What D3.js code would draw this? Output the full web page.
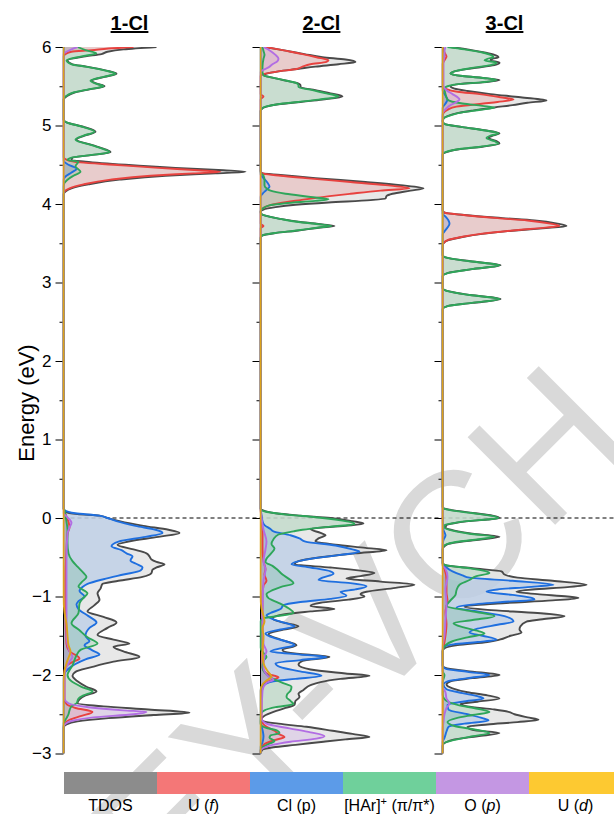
<!DOCTYPE html>
<html>
<head>
<meta charset="utf-8">
<script src="https://cdn.jsdelivr.net/npm/d3@7"></script>
<style>
  body { margin: 0; background: #fff; }
  svg { display: block; font-family: Arial, "Liberation Sans", sans-serif; }
</style>
</head>
<body>
<svg id="dos" width="614" height="814"></svg>
<script>
// ---- data: [energy (eV), DOS (arb.)] ----
const panelNames = ["1-Cl", "2-Cl", "3-Cl"];
const seriesNames = ["TDOS", "U (f)", "Cl (p)", "[HAr]+ (π/π*)", "O (p)", "U (d)"];
const energyTicks = [-3, -2, -1, 0, 1, 2, 3, 4, 5, 6];
const minorTicks = [-2.5, -1.5, -0.5, 0.5, 1.5, 2.5, 3.5, 4.5, 5.5];

// 1-Cl
const tdos1 = [[6.0,93],[5.97,60],[5.94,44],[5.91,38],[5.88,22],[5.83,4],[5.78,9],[5.75,23],[5.70,43],[5.66,53],[5.62,41],[5.57,28],[5.53,34],[5.50,41],[5.46,26],[5.42,11],[5.37,3],[5.33,0],[5.07,0],[5.04,3],[4.98,21],[4.92,32],[4.87,21],[4.82,13],[4.75,29],[4.70,41],[4.66,47],[4.62,26],[4.59,9],[4.56,8],[4.54,22],[4.50,62],[4.46,112],[4.43,160],[4.41,182],[4.39,152],[4.36,102],[4.31,56],[4.25,25],[4.20,8],[4.16,2],[4.12,0],[0.12,0],[0.08,2],[0.05,14],[0.03,36],[0.0,44],[-0.04,56],[-0.10,80],[-0.15,105],[-0.19,116],[-0.24,95],[-0.30,65],[-0.34,54],[-0.40,70],[-0.45,83],[-0.49,86],[-0.53,88],[-0.56,93],[-0.59,101],[-0.63,93],[-0.66,89],[-0.70,88],[-0.75,79],[-0.80,55],[-0.84,39],[-0.90,37],[-0.96,34],[-1.04,36],[-1.11,31],[-1.19,24],[-1.26,40],[-1.33,53],[-1.40,44],[-1.49,34],[-1.55,50],[-1.60,66],[-1.64,50],[-1.70,60],[-1.77,76],[-1.83,50],[-1.90,28],[-1.96,12],[-2.01,9],[-2.08,14],[-2.15,23],[-2.21,33],[-2.26,22],[-2.31,16],[-2.36,14],[-2.40,40],[-2.44,85],[-2.48,126],[-2.51,90],[-2.55,45],[-2.59,14],[-2.63,3],[-2.67,0],[-3,0]];
const uf1 = [[6.0,70],[5.98,45],[5.96,28],[5.94,8],[5.91,2],[5.88,0],[4.60,0],[4.56,4],[4.53,17],[4.50,50],[4.46,95],[4.43,135],[4.41,157],[4.39,130],[4.36,87],[4.31,47],[4.25,20],[4.20,6],[4.16,1],[4.12,0],[0.12,0],[0.05,2],[-0.05,5],[-0.12,6],[-0.20,4],[-0.40,3],[-0.80,2],[-1.20,2],[-1.60,3],[-1.70,6],[-1.76,14],[-1.79,16],[-1.83,10],[-1.88,3],[-1.95,1],[-2.30,1],[-2.37,3],[-2.42,12],[-2.47,29],[-2.52,18],[-2.57,6],[-2.62,1],[-2.66,0],[-3,0]];
const clp1 = [[6.0,0],[4.55,0],[4.50,5],[4.45,13],[4.40,8],[4.35,2],[4.31,0],[0.12,0],[0.10,1],[0.06,12],[0.03,36],[0.0,44],[-0.04,53],[-0.10,72],[-0.15,92],[-0.19,99],[-0.24,82],[-0.30,55],[-0.36,48],[-0.41,58],[-0.45,63],[-0.49,69],[-0.54,67],[-0.58,72],[-0.63,79],[-0.67,77],[-0.72,60],[-0.78,40],[-0.84,24],[-0.88,19],[-0.93,16],[-1.0,21],[-1.06,15],[-1.10,13],[-1.16,15],[-1.25,25],[-1.33,33],[-1.40,26],[-1.45,23],[-1.50,22],[-1.57,26],[-1.62,21],[-1.68,28],[-1.74,36],[-1.80,22],[-1.86,12],[-1.92,5],[-1.98,1],[-2.05,0],[-3,0]];
const har1 = [[6.0,14],[5.96,22],[5.92,33],[5.88,18],[5.83,3],[5.78,8],[5.75,22],[5.70,42],[5.66,52],[5.62,40],[5.57,27],[5.53,33],[5.50,40],[5.46,25],[5.42,10],[5.37,2],[5.33,0],[5.07,0],[5.04,3],[4.98,20],[4.92,31],[4.87,20],[4.82,12],[4.75,28],[4.70,40],[4.66,46],[4.62,25],[4.59,8],[4.56,4],[4.54,15],[4.48,12],[4.41,17],[4.36,10],[4.31,4],[4.27,1],[4.22,0],[0.12,0],[0.10,1],[0.03,2],[-0.05,3],[-0.15,4],[-0.32,4],[-0.45,5],[-0.55,9],[-0.62,14],[-0.70,20],[-0.75,23],[-0.82,18],[-0.87,15],[-0.96,24],[-1.03,19],[-1.09,16],[-1.21,15],[-1.34,8],[-1.43,16],[-1.52,24],[-1.60,34],[-1.68,17],[-1.75,13],[-1.81,11],[-1.88,9],[-1.94,6],[-2.0,4],[-2.08,8],[-2.15,18],[-2.21,29],[-2.26,20],[-2.30,15],[-2.36,13],[-2.40,8],[-2.45,6],[-2.50,5],[-2.55,3],[-2.62,0],[-3,0]];
const op1 = [[6.0,14],[5.97,8],[5.94,3],[5.91,0],[0.06,0],[0.02,3],[-0.06,8],[-0.12,6],[-0.20,4],[-0.50,3],[-1.0,3],[-1.5,3],[-1.70,6],[-1.77,9],[-1.83,6],[-1.90,3],[-2.0,1],[-2.30,1],[-2.36,5],[-2.41,25],[-2.45,60],[-2.47,83],[-2.50,70],[-2.54,30],[-2.58,10],[-2.62,2],[-2.66,0],[-3,0]];
const ud1 = [[6.0,0],[-1.0,0],[-1.2,1],[-1.35,3],[-1.5,4],[-1.62,5],[-1.70,7],[-1.78,5],[-1.85,3],[-1.95,1],[-2.1,0],[-3,0]];

// 2-Cl
const tdos2 = [[6.0,4],[5.97,18],[5.94,31],[5.91,44],[5.87,62],[5.84,85],[5.81,95],[5.78,78],[5.75,55],[5.72,37],[5.69,18],[5.66,6],[5.64,3],[5.61,12],[5.57,26],[5.54,37],[5.51,40],[5.49,40],[5.45,55],[5.41,70],[5.37,82],[5.33,62],[5.30,40],[5.27,18],[5.24,6],[5.21,1],[5.18,0],[4.42,0],[4.39,2],[4.37,20],[4.33,55],[4.28,105],[4.24,140],[4.20,163],[4.17,150],[4.13,132],[4.10,126],[4.07,125],[4.05,110],[4.02,68],[3.99,35],[3.96,15],[3.93,3],[3.90,0],[3.87,1],[3.81,20],[3.77,40],[3.74,62],[3.72,74],[3.70,60],[3.66,36],[3.63,15],[3.60,2],[3.57,0],[0.12,0],[0.10,2],[0.06,15],[0.03,40],[0.0,70],[-0.04,92],[-0.07,103],[-0.10,85],[-0.14,50],[-0.19,60],[-0.22,65],[-0.26,58],[-0.30,55],[-0.34,75],[-0.38,105],[-0.41,126],[-0.45,95],[-0.50,60],[-0.55,38],[-0.59,34],[-0.63,70],[-0.67,100],[-0.70,114],[-0.74,100],[-0.77,86],[-0.81,120],[-0.85,154],[-0.89,135],[-0.94,106],[-0.97,100],[-1.00,104],[-1.04,88],[-1.08,60],[-1.12,50],[-1.16,74],[-1.19,50],[-1.23,23],[-1.28,12],[-1.33,22],[-1.38,38],[-1.43,20],[-1.48,8],[-1.55,20],[-1.62,36],[-1.68,22],[-1.72,30],[-1.77,69],[-1.82,42],[-1.87,38],[-1.93,50],[-1.98,85],[-2.01,109],[-2.05,80],[-2.09,60],[-2.13,50],[-2.19,43],[-2.24,38],[-2.28,39],[-2.33,35],[-2.38,34],[-2.42,25],[-2.47,13],[-2.52,4],[-2.56,1],[-2.59,3],[-2.62,18],[-2.66,46],[-2.71,72],[-2.75,92],[-2.79,109],[-2.82,85],[-2.85,63],[-2.89,35],[-2.92,13],[-2.95,2],[-3,0]];
const uf2 = [[6.0,5],[5.97,18],[5.94,30],[5.91,42],[5.87,56],[5.83,68],[5.81,66],[5.78,50],[5.75,42],[5.72,36],[5.69,18],[5.66,5],[5.63,0],[5.40,0],[5.37,3],[5.33,0],[4.42,0],[4.39,2],[4.36,20],[4.33,45],[4.28,90],[4.24,125],[4.20,149],[4.17,120],[4.13,90],[4.10,69],[4.05,40],[4.01,19],[3.97,6],[3.93,1],[3.90,0],[3.75,0],[3.72,3],[3.69,0],[0.12,0],[0.0,1],[-0.2,2],[-0.4,2],[-0.55,3],[-0.65,5],[-0.72,4],[-0.80,6],[-0.86,3],[-1.0,2],[-1.5,2],[-1.9,2],[-1.98,6],[-2.03,18],[-2.07,10],[-2.12,3],[-2.2,1],[-2.58,1],[-2.65,5],[-2.71,14],[-2.75,18],[-2.79,24],[-2.83,14],[-2.88,4],[-2.93,1],[-2.97,0],[-3,0]];
const clp2 = [[6.0,0],[4.38,0],[4.33,3],[4.27,7],[4.22,9],[4.18,6],[4.13,2],[4.09,0],[0.12,0],[0.04,1],[-0.04,2],[-0.09,4],[-0.14,10],[-0.17,13],[-0.22,30],[-0.26,39],[-0.30,45],[-0.35,75],[-0.40,92],[-0.43,99],[-0.47,80],[-0.52,50],[-0.57,33],[-0.59,31],[-0.63,50],[-0.68,70],[-0.71,73],[-0.76,62],[-0.79,58],[-0.83,90],[-0.87,106],[-0.91,95],[-0.94,80],[-0.99,86],[-1.03,70],[-1.07,40],[-1.11,23],[-1.16,20],[-1.21,10],[-1.24,6],[-1.30,15],[-1.35,28],[-1.38,34],[-1.42,20],[-1.47,5],[-1.53,14],[-1.58,28],[-1.62,34],[-1.66,20],[-1.70,10],[-1.74,40],[-1.77,66],[-1.81,40],[-1.85,15],[-1.90,20],[-1.95,38],[-2.01,61],[-2.05,35],[-2.08,13],[-2.12,4],[-2.15,1],[-2.2,0],[-2.6,0],[-2.70,2],[-2.78,3],[-2.86,2],[-2.92,0],[-3,0]];
const har2 = [[6.0,2],[5.95,3],[5.90,4],[5.85,3],[5.75,2],[5.68,2],[5.64,3],[5.61,12],[5.57,26],[5.54,36],[5.51,38],[5.49,38],[5.45,52],[5.41,66],[5.37,78],[5.33,58],[5.30,38],[5.27,17],[5.24,5],[5.21,1],[5.18,0],[4.40,0],[4.36,3],[4.30,4],[4.24,4],[4.20,6],[4.17,10],[4.13,25],[4.09,50],[4.06,68],[4.04,55],[4.01,25],[3.98,8],[3.94,2],[3.90,0],[3.87,1],[3.81,20],[3.77,38],[3.74,60],[3.72,71],[3.70,58],[3.66,34],[3.63,14],[3.60,2],[3.57,0],[0.12,0],[0.10,1],[0.07,10],[0.04,29],[0.01,55],[-0.03,80],[-0.06,92],[-0.08,94],[-0.11,70],[-0.15,42],[-0.17,33],[-0.21,18],[-0.27,13],[-0.33,11],[-0.39,14],[-0.46,10],[-0.52,6],[-0.56,5],[-0.61,12],[-0.66,17],[-0.72,22],[-0.79,30],[-0.83,33],[-0.88,20],[-0.92,12],[-0.97,6],[-1.02,8],[-1.08,18],[-1.15,28],[-1.21,33],[-1.25,17],[-1.28,2],[-1.32,0],[-1.65,0],[-1.72,3],[-1.77,6],[-1.82,3],[-1.90,2],[-1.98,5],[-2.04,11],[-2.10,22],[-2.15,31],[-2.20,30],[-2.24,27],[-2.28,26],[-2.33,30],[-2.37,33],[-2.41,15],[-2.45,4],[-2.48,1],[-2.52,0],[-2.62,0],[-2.67,5],[-2.71,17],[-2.74,19],[-2.77,10],[-2.80,9],[-2.84,14],[-2.88,8],[-2.93,1],[-2.97,0],[-3,0]];
const op2 = [[6.0,3],[5.95,10],[5.90,15],[5.85,18],[5.82,17],[5.78,12],[5.74,8],[5.71,3],[5.68,0],[0.12,0],[0.0,1],[-0.15,3],[-0.30,6],[-0.40,5],[-0.55,3],[-0.66,5],[-0.8,3],[-1.2,2],[-1.6,3],[-1.70,6],[-1.76,4],[-1.9,3],[-2.02,8],[-2.06,13],[-2.10,6],[-2.2,2],[-2.55,1],[-2.62,6],[-2.68,29],[-2.73,50],[-2.78,64],[-2.81,56],[-2.85,30],[-2.89,12],[-2.93,3],[-2.97,0],[-3,0]];
const ud2 = [[6.0,0],[-1.0,0],[-1.15,1],[-1.25,3],[-1.32,4],[-1.40,2],[-1.5,3],[-1.7,2],[-1.85,3],[-1.95,7],[-2.02,11],[-2.07,6],[-2.12,2],[-2.2,0],[-3,0]];

// 3-Cl
const tdos3 = [[6.0,8],[5.97,25],[5.93,42],[5.90,52],[5.87,56],[5.85,50],[5.83,48],[5.80,57],[5.77,52],[5.73,30],[5.69,12],[5.66,8],[5.63,20],[5.60,45],[5.58,57],[5.55,40],[5.53,18],[5.50,8],[5.47,12],[5.44,25],[5.40,48],[5.36,78],[5.32,104],[5.29,85],[5.26,70],[5.23,52],[5.19,30],[5.16,16],[5.12,5],[5.09,1],[5.05,0],[5.02,2],[4.98,20],[4.94,42],[4.90,57],[4.87,50],[4.84,46],[4.80,54],[4.77,57],[4.73,40],[4.70,18],[4.66,4],[4.63,0],[3.92,0],[3.89,2],[3.86,22],[3.82,60],[3.79,92],[3.75,115],[3.72,124],[3.69,100],[3.66,70],[3.62,40],[3.58,20],[3.54,6],[3.50,1],[3.46,0],[3.35,0],[3.32,3],[3.27,28],[3.22,58],[3.17,30],[3.12,5],[3.08,0],[2.93,0],[2.90,3],[2.84,28],[2.79,58],[2.74,30],[2.70,5],[2.66,0],[0.14,0],[0.12,2],[0.09,15],[0.06,33],[0.03,50],[0.0,57],[-0.02,45],[-0.04,26],[-0.07,10],[-0.09,4],[-0.12,3],[-0.16,12],[-0.20,30],[-0.24,57],[-0.27,40],[-0.30,20],[-0.33,6],[-0.36,2],[-0.40,0],[-0.57,0],[-0.60,3],[-0.64,30],[-0.68,59],[-0.72,62],[-0.76,75],[-0.80,110],[-0.85,144],[-0.88,125],[-0.91,90],[-0.94,74],[-0.97,95],[-1.00,125],[-1.02,136],[-1.05,110],[-1.09,55],[-1.13,22],[-1.17,45],[-1.21,95],[-1.25,122],[-1.29,100],[-1.32,84],[-1.38,78],[-1.42,77],[-1.46,79],[-1.50,68],[-1.55,57],[-1.58,45],[-1.62,15],[-1.66,2],[-1.70,0],[-1.88,0],[-1.91,3],[-1.95,25],[-2.0,57],[-2.04,30],[-2.08,8],[-2.12,4],[-2.17,10],[-2.22,25],[-2.26,45],[-2.30,57],[-2.34,35],[-2.37,18],[-2.40,25],[-2.44,52],[-2.47,66],[-2.50,72],[-2.54,85],[-2.57,96],[-2.60,75],[-2.63,45],[-2.66,25],[-2.70,30],[-2.74,57],[-2.78,35],[-2.82,12],[-2.86,3],[-2.90,0],[-3,0]];
const uf3 = [[6.0,0],[5.93,2],[5.88,4],[5.83,2],[5.78,0],[5.50,0],[5.47,3],[5.43,15],[5.40,37],[5.36,58],[5.33,71],[5.30,55],[5.28,41],[5.24,14],[5.20,5],[5.16,1],[5.12,0],[3.92,0],[3.89,2],[3.86,21],[3.82,55],[3.79,85],[3.75,108],[3.72,117],[3.69,95],[3.66,68],[3.62,38],[3.58,19],[3.54,5],[3.50,1],[3.46,0],[0.14,0],[-0.6,0],[-0.65,2],[-0.8,4],[-0.95,4],[-1.05,5],[-1.2,3],[-1.35,4],[-1.5,3],[-1.65,1],[-1.7,0],[-3,0]];
const clp3 = [[6.0,0],[5.45,0],[5.38,3],[5.33,5],[5.28,3],[5.22,0],[3.88,0],[3.84,3],[3.79,6],[3.75,7],[3.70,5],[3.65,2],[3.61,0],[0.14,0],[0.05,0],[-0.15,1],[-0.22,3],[-0.28,1],[-0.35,0],[-0.58,0],[-0.62,3],[-0.68,10],[-0.73,20],[-0.76,27],[-0.80,70],[-0.85,111],[-0.88,85],[-0.91,55],[-0.94,44],[-0.98,70],[-1.02,90],[-1.04,92],[-1.07,60],[-1.11,25],[-1.14,14],[-1.19,35],[-1.25,62],[-1.32,71],[-1.36,55],[-1.41,35],[-1.46,27],[-1.50,40],[-1.55,54],[-1.58,35],[-1.61,11],[-1.64,2],[-1.68,0],[-1.88,0],[-1.92,3],[-1.96,25],[-2.0,47],[-2.04,25],[-2.08,5],[-2.12,1],[-2.18,4],[-2.23,20],[-2.27,35],[-2.30,41],[-2.34,20],[-2.38,5],[-2.44,6],[-2.50,25],[-2.55,40],[-2.58,46],[-2.62,22],[-2.66,6],[-2.72,4],[-2.80,2],[-2.86,0],[-3,0]];
const har3 = [[6.0,5],[5.97,22],[5.93,40],[5.90,48],[5.87,51],[5.85,45],[5.83,42],[5.80,54],[5.77,48],[5.73,28],[5.69,12],[5.66,8],[5.63,20],[5.60,45],[5.58,54],[5.55,38],[5.53,18],[5.50,5],[5.47,2],[5.40,3],[5.33,5],[5.28,20],[5.25,40],[5.23,52],[5.20,38],[5.17,21],[5.13,8],[5.10,2],[5.06,0],[5.02,2],[4.98,20],[4.94,41],[4.90,56],[4.87,48],[4.84,44],[4.80,52],[4.77,56],[4.73,38],[4.70,17],[4.66,3],[4.63,0],[3.35,0],[3.32,3],[3.27,27],[3.22,57],[3.17,29],[3.12,5],[3.08,0],[2.93,0],[2.90,3],[2.84,27],[2.79,57],[2.74,29],[2.70,5],[2.66,0],[0.14,0],[0.12,1],[0.09,12],[0.06,31],[0.03,48],[0.0,56],[-0.02,43],[-0.04,24],[-0.07,9],[-0.09,2],[-0.12,2],[-0.16,10],[-0.20,27],[-0.24,52],[-0.27,36],[-0.30,17],[-0.33,5],[-0.36,1],[-0.40,0],[-0.57,0],[-0.60,3],[-0.64,27],[-0.68,44],[-0.70,47],[-0.74,34],[-0.79,27],[-0.85,17],[-0.92,14],[-0.98,13],[-1.05,8],[-1.12,4],[-1.18,25],[-1.25,52],[-1.30,30],[-1.34,11],[-1.39,20],[-1.44,36],[-1.47,42],[-1.52,25],[-1.57,10],[-1.62,3],[-1.66,1],[-1.70,0],[-1.95,0],[-2.0,2],[-2.1,0],[-2.25,0],[-2.32,3],[-2.38,15],[-2.43,35],[-2.47,47],[-2.51,30],[-2.55,14],[-2.60,5],[-2.65,12],[-2.70,35],[-2.74,47],[-2.78,30],[-2.83,11],[-2.87,1],[-2.92,0],[-3,0]];
const op3 = [[6.0,3],[5.95,2],[5.9,2],[5.8,1],[5.5,1],[5.45,4],[5.40,10],[5.35,16],[5.33,17],[5.30,14],[5.26,8],[5.22,4],[5.18,1],[5.14,0],[0.14,0],[-0.6,0],[-0.65,3],[-0.75,5],[-0.9,3],[-1.1,4],[-1.3,3],[-1.5,2],[-1.65,0],[-2.15,0],[-2.22,3],[-2.30,4],[-2.36,7],[-2.42,4],[-2.5,2],[-2.6,1],[-2.7,0],[-3,0]];
const ud3 = [[6.0,0],[-3,0]];

const panels = [
  [tdos1, uf1, clp1, har1, op1, ud1],
  [tdos2, uf2, clp2, har2, op2, ud2],
  [tdos3, uf3, clp3, har3, op3, ud3]
];

const lineColors = ["#4a4a4a", "#e8423f", "#1f6fdf", "#2ea65a", "#b26ee3", "#dca21a"];
const fillColors = ["#e4e4e4", "#e8423f", "#1f6fdf", "#2ea65a", "#b26ee3", "none"];
const legendColors = ["#8c8c8c", "#f47777", "#5c9be8", "#6fd09b", "#c497e3", "#fdc931"];

// ---- layout ----
const svg = d3.select("#dos");
const panelX = [63.5, 260.5, 442.5];

const y = d3.scaleLinear().domain([-3, 6]).range([753.5, 47]);
const x = d3.scaleLinear().domain([0, 200]).range([0, 200]);

// watermark (publisher stamp), drawn underneath everything
const wm = svg.append("g")
    .attr("transform", "translate(368,712) rotate(-45)")
    .attr("font-size", 180)
    .attr("fill", "#d9d9d9");
wm.append("text").attr("text-anchor", "end").text("WILEY-");
wm.append("text").attr("text-anchor", "start").text("VCH");

svg.append("defs").append("clipPath").attr("id", "clip")
  .append("rect")
    .attr("x", -1).attr("y", y(6))
    .attr("width", 260).attr("height", y(-3) - y(6));

const area = d3.area()
    .curve(d3.curveMonotoneY)
    .y(d => y(d[0]))
    .x0(x(0))
    .x1(d => x(d[1]));

const line = d3.line()
    .curve(d3.curveMonotoneY)
    .y(d => y(d[0]))
    .x(d => x(d[1]));

// Fermi level
svg.append("line")
    .attr("x1", panelX[0]).attr("x2", 614)
    .attr("y1", y(0)).attr("y2", y(0))
    .attr("stroke", "#000")
    .attr("stroke-width", 1)
    .attr("stroke-dasharray", "4,3");

panels.forEach((series, i) => {
  const g = svg.append("g").attr("transform", `translate(${panelX[i]},0)`);

  // major and minor ticks
  g.append("g")
      .call(d3.axisLeft(y).tickValues(energyTicks).tickSize(8).tickPadding(4)
        .tickFormat(i === 0 ? d3.format("d") : ""))
      .call(a => a.select(".domain").remove())
      .call(a => a.selectAll("text").attr("font-size", 17).attr("fill", "#000")
        .attr("font-family", "Arial, 'Liberation Sans', sans-serif"));
  g.append("g")
      .call(d3.axisLeft(y).tickValues(minorTicks).tickSize(4).tickFormat(""))
      .call(a => a.select(".domain").remove());

  const plot = g.append("g").attr("clip-path", "url(#clip)");

  series.forEach((d, k) => {
    if (fillColors[k] === "none") return;
    plot.append("path")
        .datum(d)
        .attr("d", area)
        .attr("fill", fillColors[k])
        .attr("fill-opacity", k === 0 ? 0.85 : 0.17);
  });

  // axis line
  plot.append("line")
      .attr("x1", 0).attr("x2", 0)
      .attr("y1", y(6)).attr("y2", y(-3))
      .attr("stroke", "#000").attr("stroke-width", 1);

  series.forEach((d, k) => {
    plot.append("path")
        .datum(d)
        .attr("d", line)
        .attr("fill", "none")
        .attr("stroke", lineColors[k])
        .attr("stroke-width", 1.9)
        .attr("stroke-linejoin", "round");
  });

  // title
  svg.append("text")
      .attr("x", panelX[i] + [66, 61, 62][i])
      .attr("y", 30)
      .attr("text-anchor", "middle")
      .attr("font-size", 20)
      .attr("font-weight", "bold")
      .attr("text-decoration", "underline")
      .text(panelNames[i]);
});

// y label
svg.append("text")
    .attr("transform", "translate(34,403) rotate(-90)")
    .attr("text-anchor", "middle")
    .attr("font-size", 22)
    .text("Energy (eV)");

// legend bar
const band = d3.scaleBand().domain(seriesNames).range([64, 64 + 93 * 6]);
const legend = svg.append("g");
legend.selectAll("rect")
  .data(seriesNames)
  .join("rect")
    .attr("x", d => band(d))
    .attr("y", 772)
    .attr("width", band.bandwidth())
    .attr("height", 22)
    .attr("fill", (d, k) => legendColors[k]);

const labelParts = [
  [["TDOS", ""]],
  [["U (", ""], ["f", "italic"], [")", ""]],
  [["Cl (p)", ""]],
  [["[HAr]", ""], ["+", "sup"], [" (π/π*)", ""]],
  [["O (", ""], ["p", "italic"], [")", ""]],
  [["U (", ""], ["d", "italic"], [")", ""]]
];
seriesNames.forEach((name, k) => {
  const t = legend.append("text")
      .attr("x", band(name) + band.bandwidth() / 2)
      .attr("y", 811)
      .attr("text-anchor", "middle")
      .attr("font-size", 16);
  labelParts[k].forEach(([s, style]) => {
    const ts = t.append("tspan").text(s);
    if (style === "italic") ts.attr("font-style", "italic");
    if (style === "sup") ts.attr("font-size", 11).attr("dy", -6);
    if (style === "" && k === 3 && s.startsWith(" ")) ts.attr("dy", 6);
  });
});
</script>
</body>
</html>
